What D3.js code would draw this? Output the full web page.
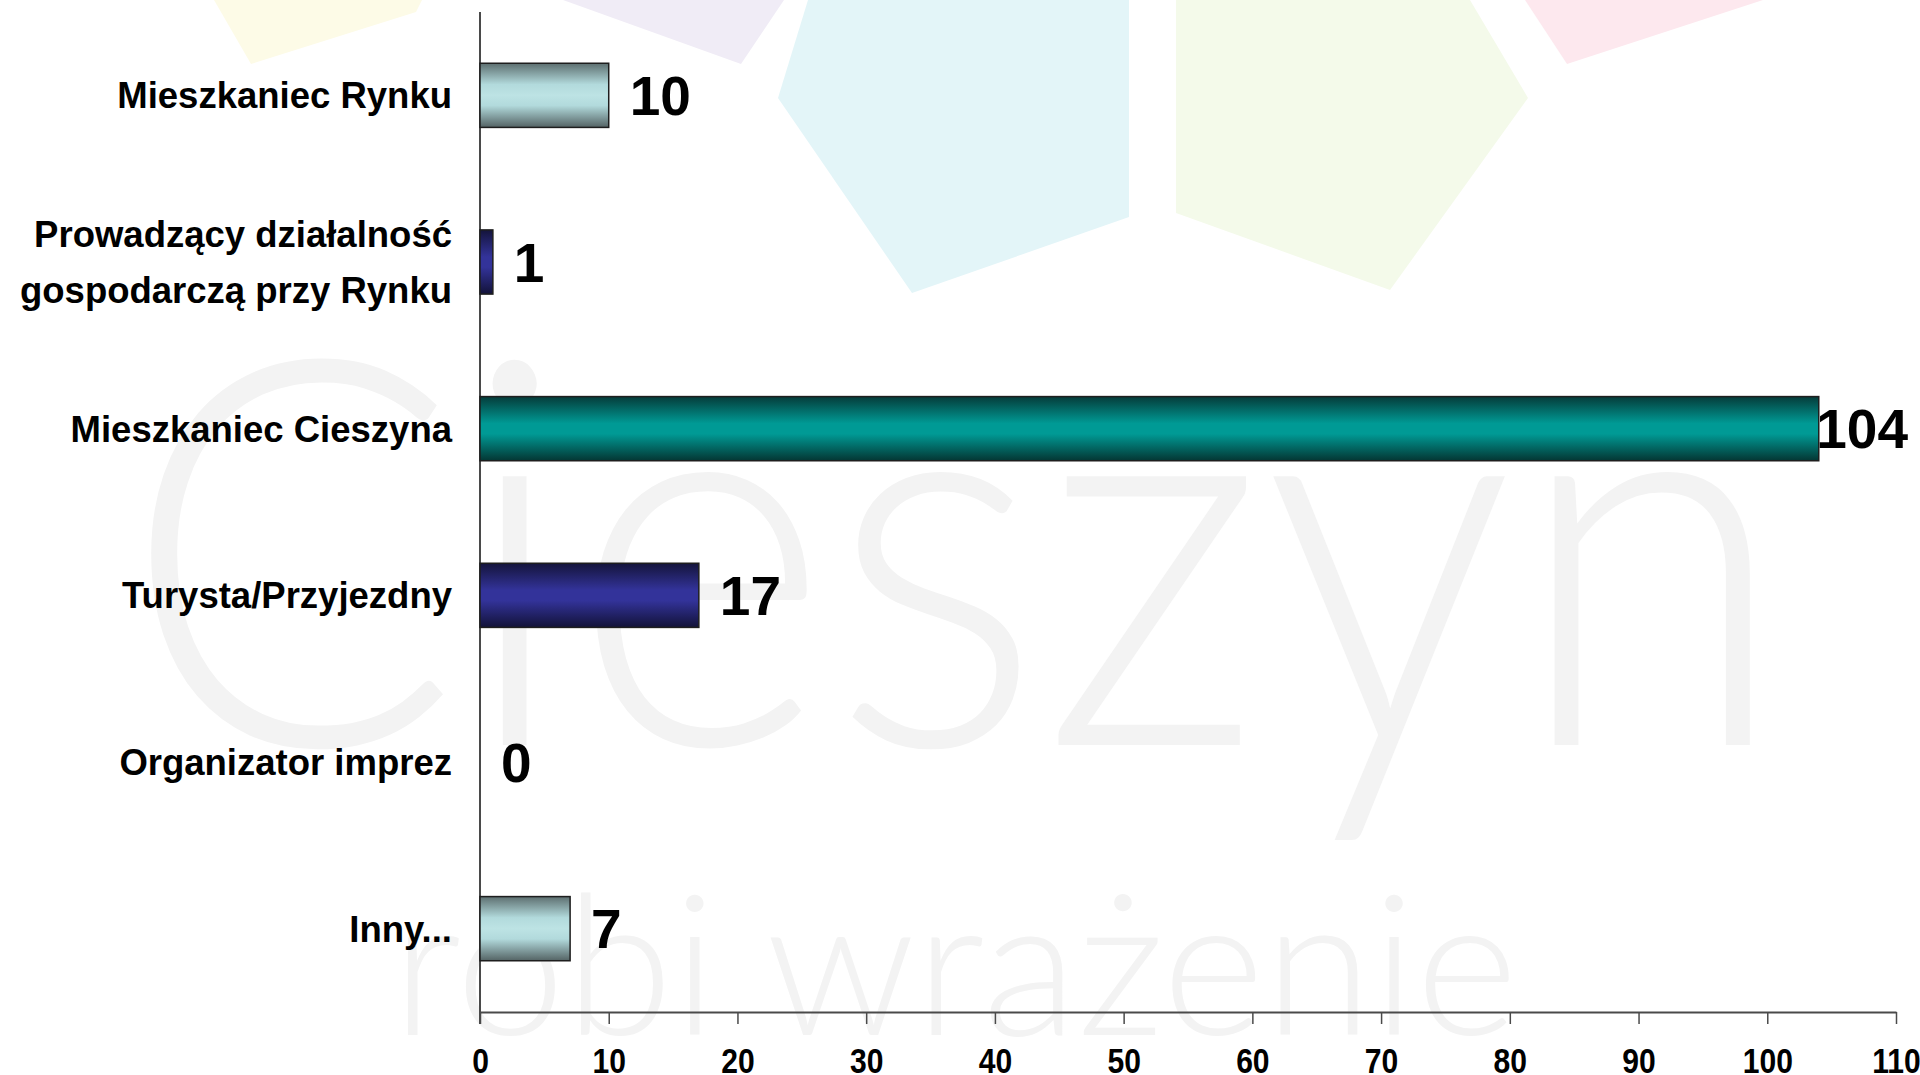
<!DOCTYPE html>
<html>
<head>
<meta charset="utf-8">
<script src="https://cdn.jsdelivr.net/npm/d3@7"></script>
<style>
    html, body { margin: 0; padding: 0; background: #fff; overflow: hidden; }
    svg { display: block; }
</style>
</head>
<body>
<div id="chart"></div>
<script>
// chart data
const categories = [
    ['Mieszkaniec Rynku'],
    ['Prowadzący działalność', 'gospodarczą przy Rynku'],
    ['Mieszkaniec Cieszyna'],
    ['Turysta/Przyjezdny'],
    ['Organizator imprez'],
    ['Inny...']
];
const values = [10, 1, 104, 17, 0, 7];
const barKinds = ['light', 'navy', 'teal', 'navy', 'light', 'light'];
const xTickValues = [0, 10, 20, 30, 40, 50, 60, 70, 80, 90, 100, 110];

const CONFIG = {
    WIDTH: 1920,
    HEIGHT: 1075,
    LEFT: 480,
    RIGHT: 1896,
    TOP: 12,
    BOTTOM: 1012,
    FONT: '"Liberation Sans", Arial, sans-serif',
    GRADIENTS: {
        light: [[0, '#5d6f70'], [0.33, '#b2dadc'], [0.5, '#bde3e4'], [0.66, '#b2dadc'], [1, '#546364']],
        navy: [[0, '#14143b'], [0.42, '#33339a'], [0.58, '#33339a'], [1, '#121238']],
        teal: [[0, '#053c3a'], [0.42, '#009a95'], [0.58, '#009a95'], [1, '#043633']]
    }
};

// faint logo in the background (decoration only)
const petals = [
    { fill: '#fdfbe7', pts: [[214, 0], [251, 64], [416, 12], [422, 0]] },
    { fill: '#f0ecf6', pts: [[563, 0], [741, 64], [784, 0]] },
    { fill: '#e3f5f8', pts: [[808, 0], [778, 98], [912, 293], [1129, 217], [1129, 0]] },
    { fill: '#f4faea', pts: [[1176, 0], [1176, 213], [1390, 290], [1528, 98], [1470, 0]] },
    { fill: '#fde8ee', pts: [[1525, 0], [1567, 64], [1763, 0]] }
];

class BarChart {
    constructor(parent) {
        this.ROOT = d3.select(parent).append('svg')
            .attr('width', CONFIG.WIDTH)
            .attr('height', CONFIG.HEIGHT)
            .attr('viewBox', [0, 0, CONFIG.WIDTH, CONFIG.HEIGHT]);

        this.rows = values.map((v, i) => ({ i: i, value: v, kind: barKinds[i], lines: categories[i] }));

        this.xScale = d3.scaleLinear()
            .domain([0, 110])
            .range([CONFIG.LEFT, CONFIG.RIGHT]);
        this.yScale = d3.scaleBand()
            .domain(d3.range(categories.length))
            .range([CONFIG.TOP, CONFIG.BOTTOM])
            .paddingInner(0.615)
            .paddingOuter(0.3075);
    }

    draw() {
        this.drawBackground();
        this.drawGradients();
        this.drawAxes();
        this.drawBars();
        this.drawLabels();
    }

    drawBackground() {
        const bg = this.ROOT.append('g');
        bg.append('rect')
            .attr('width', CONFIG.WIDTH)
            .attr('height', CONFIG.HEIGHT)
            .attr('fill', '#fff');
        bg.selectAll('polygon')
            .data(petals)
            .join('polygon')
            .attr('points', d => d.pts.map(p => p.join(',')).join(' '))
            .attr('fill', d => d.fill);
        bg.append('text')
            .attr('x', 122)
            .attr('y', 745)
            .attr('font-family', 'Lato, "Open Sans", sans-serif')
            .attr('font-weight', 300)
            .attr('font-size', 540)
            .attr('textLength', 1666)
            .attr('lengthAdjust', 'spacingAndGlyphs')
            .attr('fill', '#f3f3f3')
            .text('Cieszyn');
        bg.append('text')
            .attr('x', 392)
            .attr('y', 1035)
            .attr('font-family', 'Lato, "Open Sans", sans-serif')
            .attr('font-weight', 300)
            .attr('font-size', 195)
            .attr('textLength', 1126)
            .attr('lengthAdjust', 'spacingAndGlyphs')
            .attr('fill', '#f3f3f3')
            .text('robi wrażenie');
    }

    drawGradients() {
        const defs = this.ROOT.append('defs');
        Object.keys(CONFIG.GRADIENTS).forEach((key) => {
            defs.append('linearGradient')
                .attr('id', 'grad-' + key)
                .attr('x1', 0).attr('y1', 0)
                .attr('x2', 0).attr('y2', 1)
                .selectAll('stop')
                .data(CONFIG.GRADIENTS[key])
                .join('stop')
                .attr('offset', d => d[0])
                .attr('stop-color', d => d[1]);
        });
    }

    drawAxes() {
        const xAxis = d3.axisBottom(this.xScale)
            .tickValues(xTickValues)
            .tickSize(12)
            .tickSizeOuter(0)
            .tickFormat(d3.format('d'));

        const gx = this.ROOT.append('g')
            .attr('transform', 'translate(0,' + CONFIG.BOTTOM + ')')
            .call(xAxis);
        gx.select('.domain')
            .attr('stroke', '#4a4a4a')
            .attr('stroke-width', 2);
        gx.selectAll('.tick line')
            .attr('stroke', '#4a4a4a')
            .attr('stroke-width', 1.5);
        gx.selectAll('.tick text')
            .attr('y', 61)
            .attr('dy', 0)
            .attr('transform', 'scale(0.86,1)')
            .attr('font-family', CONFIG.FONT)
            .attr('font-weight', 'bold')
            .attr('font-size', 35)
            .attr('fill', '#000');

        // vertical category axis line
        this.ROOT.append('line')
            .attr('x1', this.xScale(0)).attr('x2', this.xScale(0))
            .attr('y1', CONFIG.TOP).attr('y2', CONFIG.BOTTOM + 12)
            .attr('stroke', '#4a4a4a')
            .attr('stroke-width', 2);
    }

    drawBars() {
        this.BARS = this.ROOT.append('g')
            .selectAll('rect')
            .data(this.rows.filter(d => d.value > 0))
            .join('rect')
            .attr('x', this.xScale(0))
            .attr('y', d => this.yScale(d.i))
            .attr('width', d => this.xScale(d.value) - this.xScale(0))
            .attr('height', this.yScale.bandwidth())
            .attr('fill', d => 'url(#grad-' + d.kind + ')')
            .attr('stroke', '#1e1e1e')
            .attr('stroke-width', 1.5);
    }

    drawLabels() {
        const half = this.yScale.bandwidth() / 2;

        // category labels
        const cats = this.ROOT.append('g')
            .attr('font-family', CONFIG.FONT)
            .attr('font-weight', 'bold')
            .attr('font-size', 36.5)
            .attr('text-anchor', 'end')
            .selectAll('text')
            .data(this.rows)
            .join('text')
            .attr('x', this.xScale(0) - 28)
            .attr('y', d => this.yScale(d.i) + half);
        cats.selectAll('tspan')
            .data(d => d.lines.map((line, j) => ({ line: line, j: j, n: d.lines.length })))
            .join('tspan')
            .attr('x', this.xScale(0) - 28)
            .attr('dy', d => d.j === 0 ? (13 - (d.n - 1) * 28) + 'px' : '56px')
            .text(d => d.line);

        // value labels
        const vals = this.ROOT.append('g')
            .attr('font-family', CONFIG.FONT)
            .attr('font-weight', 'bold')
            .attr('font-size', 55)
            .selectAll('text')
            .data(this.rows)
            .join('text')
            .attr('y', d => this.yScale(d.i) + half)
            .attr('dy', '0.36em')
            .attr('x', d => this.xScale(d.value) + 21)
            .text(d => d.value);
        // keep labels inside the picture
        vals.attr('x', function (d) {
            const w = this.getComputedTextLength();
            const x = +d3.select(this).attr('x');
            return Math.min(x, CONFIG.WIDTH - 12 - w);
        });
    }
}

const chart = new BarChart(document.getElementById('chart'));
chart.draw();
</script>
</body>
</html>
